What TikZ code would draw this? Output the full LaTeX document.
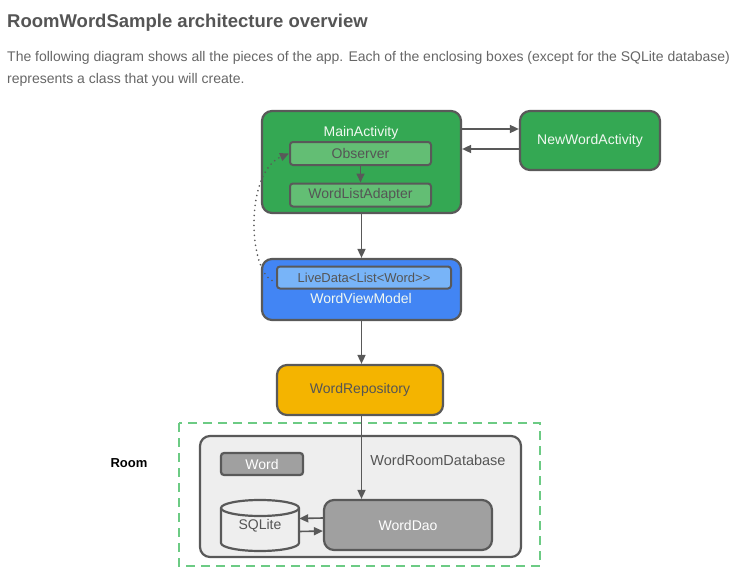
\documentclass[tikz,border=0pt]{standalone}
\usepackage{fontspec}
\setmainfont{Liberation Sans}
\usetikzlibrary{arrows.meta}

\definecolor{edge}{HTML}{595959}
\definecolor{txt}{HTML}{555555}
\definecolor{gGreen}{HTML}{34A853}
\definecolor{lGreen}{HTML}{63BE74}
\definecolor{gBlue}{HTML}{4285F4}
\definecolor{lBlue}{HTML}{78B4F8}
\definecolor{gYellow}{HTML}{F4B400}
\definecolor{dbGray}{HTML}{EEEEEE}
\definecolor{midGray}{HTML}{A0A0A0}
\definecolor{roomGreen}{HTML}{6CCB84}
\definecolor{softWhite}{HTML}{F1F8F1}

\tikzset{
  box/.style={draw=edge, line width=2.2pt, rounded corners=10pt, inner sep=0pt},
  inbox/.style={draw=edge, line width=2pt, rounded corners=3pt, inner sep=0pt,
    minimum width=141pt, minimum height=23pt, text=txt, font=\fontsize{14}{16}\selectfont},
  lbl/.style={font=\fontsize{14}{16}\selectfont, inner sep=0pt},
  flow/.style={draw=edge, line width=1.6pt, -{Triangle[length=9pt,width=8pt]}},
}

\begin{document}
\begin{tikzpicture}[x=1pt,y=-1pt]
  \useasboundingbox (0,0) rectangle (745,586);

  % heading and text
  \node[anchor=base west, inner sep=0pt, text=txt, font=\fontsize{18.5}{22}\selectfont\bfseries] (title) at (7,28) {RoomWordSample architecture overview};
  \node[anchor=base west, inner sep=0pt, text=txt!90, font=\fontsize{14}{17}\selectfont] (intro) at (7,62) {The following diagram shows all the pieces of the app. Each of the enclosing boxes (except for the SQLite database)};
  \node[anchor=base west, inner sep=0pt, text=txt!90, font=\fontsize{14}{17}\selectfont] (intro2) at (7,84) {represents a class that you will create.};

  % activities
  \node[box, fill=gGreen, minimum width=199pt, minimum height=102pt] (main) at (361.5,162) {};
  \node[lbl, text=softWhite] (mainlbl) at (361,133) {MainActivity};
  \node[inbox, fill=lGreen] (observer) at (360.5,153.5) {Observer};
  \node[inbox, fill=lGreen] (adapter) at (360.5,195) {WordListAdapter};
  \node[box, fill=gGreen, minimum width=140pt, minimum height=59pt, text=softWhite, font=\fontsize{14}{16}\selectfont] (newword) at (590,140.5) {NewWordActivity};

  \draw[flow] (observer) -- (adapter);
  \draw[flow] ([yshift=33pt]main.east) -- ([yshift=11.5pt]newword.west);
  \draw[flow] ([yshift=-8.5pt]newword.west) -- ([yshift=13pt]main.east);

  % view model
  \node[box, fill=gBlue, minimum width=199pt, minimum height=61pt] (viewmodel) at (361.5,289.5) {};
  \node[inbox, fill=lBlue, minimum width=174pt, minimum height=22pt, font=\fontsize{13}{15}\selectfont] (livedata) at (364,277.5) {LiveData<List<Word>{}>};
  \node[lbl, text=softWhite] (vmlbl) at (361,298) {WordViewModel};

  \draw[flow] (main) -- (viewmodel);
  \draw[edge, line width=1.8pt, line cap=round, dash pattern=on 0pt off 5pt, -{Triangle[length=9pt,width=8pt]}]
    ([xshift=-4pt,yshift=-3pt]livedata.west) .. controls (248,268) and (245,172) .. (observer.west);

  % repository
  \node[box, fill=gYellow, minimum width=166pt, minimum height=50pt, text=txt, font=\fontsize{14}{16}\selectfont] (repo) at (360,390) {WordRepository};
  \draw[flow] (viewmodel.south) -- (viewmodel.south |- repo.north);

  % room
  \draw[roomGreen, line width=2.4pt, dash pattern=on 9pt off 6pt] (179,423) rectangle (540,566);
  \node[lbl, font=\fontsize{13}{15}\selectfont\bfseries] (roomlbl) at (129,463) {Room};

  \node[box, fill=dbGray, minimum width=321pt, minimum height=121pt] (database) at (360.5,496.5) {};
  \node[lbl, text=txt, font=\fontsize{14.5}{16}\selectfont] (dblbl) at (438,460) {WordRoomDatabase};
  \node[box, rounded corners=3pt, fill=midGray, minimum width=82pt, minimum height=22pt, text=white, font=\fontsize{14}{16}\selectfont] (word) at (262,464) {Word};
  \node[box, fill=midGray, minimum width=168pt, minimum height=50pt, text=white, font=\fontsize{14}{16}\selectfont] (dao) at (408,525) {WordDao};

  % sqlite drum
  \filldraw[draw=edge, fill=dbGray, line width=2.2pt]
    (221,508) -- (221,543) arc[start angle=180, end angle=360, x radius=39pt, y radius=8pt]
    -- (299,508) arc[start angle=0, end angle=180, x radius=39pt, y radius=8pt] -- cycle;
  \draw[edge, line width=2.2pt] (221,508) arc[start angle=180, end angle=360, x radius=39pt, y radius=8pt];
  \node[minimum width=78pt, minimum height=51pt, inner sep=0pt, text=txt, font=\fontsize{14}{16}\selectfont] (sqlite) at (260,526) {\raisebox{-3pt}{SQLite}};

  \draw[flow] (viewmodel.south |- repo.south) -- (viewmodel.south |- dao.north);
  \draw[flow] ([yshift=7pt]dao.west) -- ([yshift=7.5pt]sqlite.east);
  \draw[flow] ([yshift=-5.5pt]sqlite.east) -- ([yshift=-6pt]dao.west);
\end{tikzpicture}
\end{document}
